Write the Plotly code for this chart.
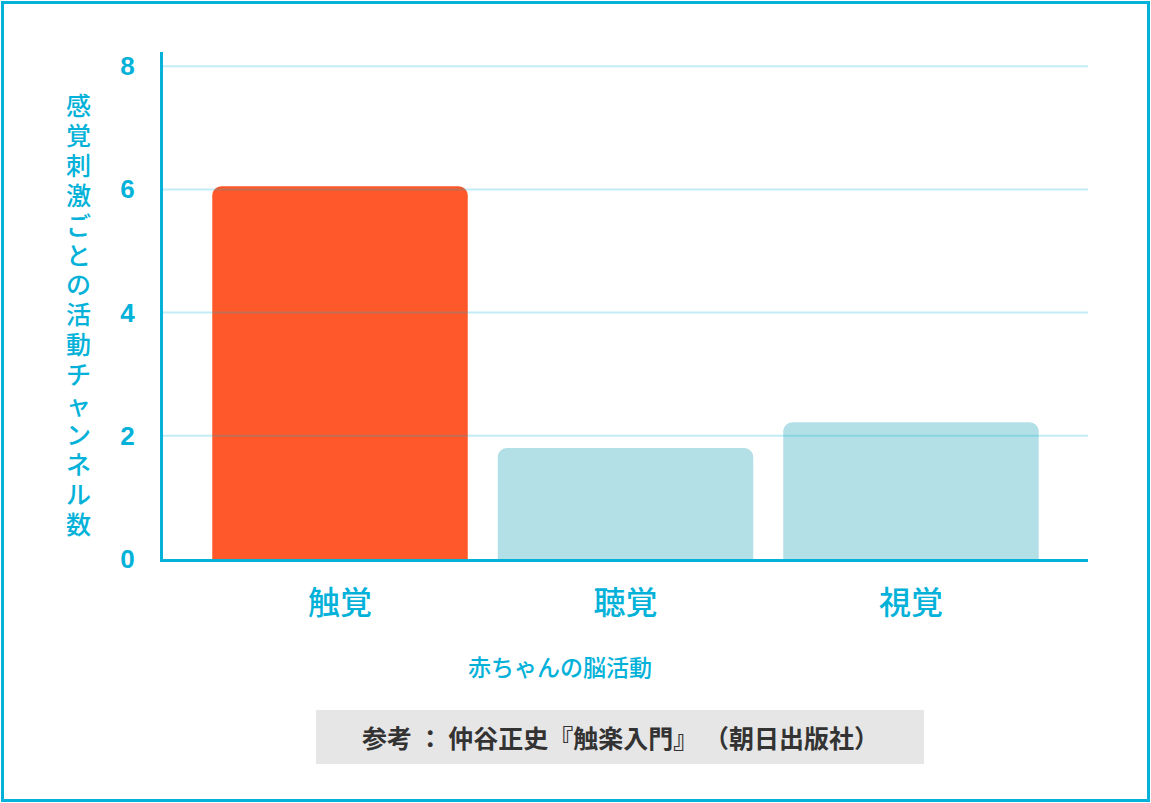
import plotly.graph_objects as go

categories = ["触覚", "聴覚", "視覚"]
channels = [6.05, 1.8, 2.22]
bar_colors = ["#ff582a", "#b3dfe6", "#b3dfe6"]
y_ticks = [0, 2, 4, 6, 8]

y_title = "感覚刺激ごとの活動チャンネル数"
x_title = "赤ちゃんの脳活動"
source_text = "参考 ： 仲谷正史『触楽入門』 （朝日出版社）"

CYAN = "#04b2d9"
FONT = "Noto Sans CJK JP"

W, H = 1151, 803
L, R, T, B = 163, 1088, 52, 559   # plot area in pixels


def px(x):
    return (x - L) / (R - L)


def py(y):
    return (B - y) / (B - T)


fig = go.Figure()
fig.add_trace(
    go.Bar(x=list(range(len(categories))), y=channels, marker=dict(color=bar_colors, line=dict(width=0)),
           width=0.895, hoverinfo="skip")
)

fig.update_layout(
    width=W, height=H,
    margin=dict(l=L, r=W - R, t=T, b=H - B),
    paper_bgcolor="white", plot_bgcolor="white",
    showlegend=False,
    barcornerradius=9,
    font=dict(family=FONT, color=CYAN),
)

fig.update_xaxes(
    range=[-0.62, 2.62],
    tickmode="array", tickvals=list(range(len(categories))), ticktext=categories,
    tickfont=dict(size=32, family=FONT, color=CYAN, weight=500),
    showline=True, linecolor=CYAN, linewidth=3,
    showgrid=False, zeroline=False, ticks="", ticklabelstandoff=14,
    fixedrange=True,
)
fig.update_yaxes(
    range=[0, 8.23],
    tickvals=y_ticks,
    tickfont=dict(size=26, family="Liberation Sans", color=CYAN, weight="bold"),
    showline=True, linecolor=CYAN, linewidth=3,
    showgrid=False, zeroline=False, ticks="", ticklabelstandoff=20,
    fixedrange=True,
)

# gridlines drawn over the bars, as in the original
for v in y_ticks[1:]:
    fig.add_shape(type="line", xref="paper", yref="y", x0=0, x1=1, y0=v, y1=v,
                  line=dict(color="rgba(4,178,217,0.24)", width=2), layer="above")

# vertical y-axis title, characters stacked upright
for i, ch in enumerate(y_title):
    fig.add_annotation(
        text=ch, xref="paper", yref="paper", x=px(78.5), y=py(104 + i * 29.9),
        xanchor="center", yanchor="middle", showarrow=False,
        font=dict(size=25, family=FONT, color=CYAN, weight=500),
    )

fig.add_annotation(
    text=x_title, xref="paper", yref="paper", x=px(560), y=py(666),
    xanchor="center", yanchor="middle", showarrow=False,
    font=dict(size=23, family=FONT, color=CYAN, weight=500),
)

# source box
fig.add_shape(type="rect", xref="paper", yref="paper", x0=px(316), x1=px(924),
              y0=py(764), y1=py(710), fillcolor="#e6e6e6", line=dict(width=0))
fig.add_annotation(
    text=source_text, xref="paper", yref="paper", x=px(620), y=py(737),
    xanchor="center", yanchor="middle", showarrow=False,
    font=dict(size=25, family=FONT, color="#333333", weight=600),
)

# outer frame
fig.add_shape(type="rect", xref="paper", yref="paper",
              x0=px(2.5), x1=px(1148.5), y0=py(800.5), y1=py(2.5),
              line=dict(color=CYAN, width=3), fillcolor="rgba(0,0,0,0)")

fig.write_html("out.html", config={"displayModeBar": False},
               post_script="document.body.style.margin='0';")
